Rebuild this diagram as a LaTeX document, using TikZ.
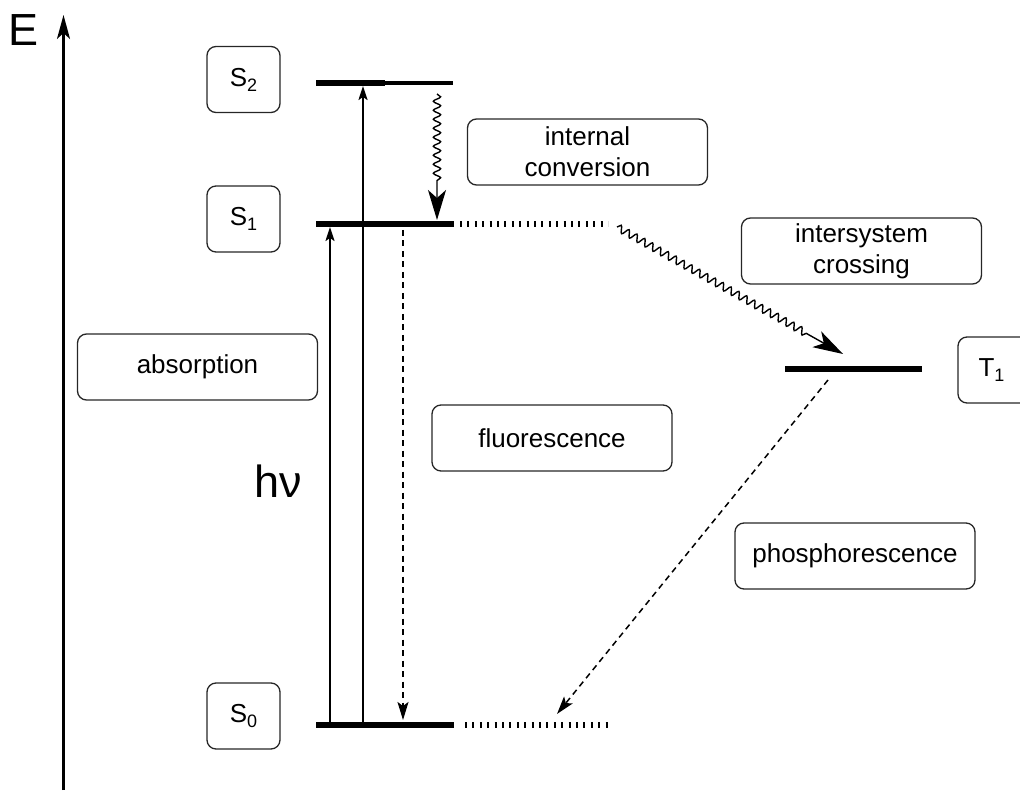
\documentclass[tikz,border=0pt]{standalone}
\usepackage{fontspec}
\setmainfont{Liberation Sans}
\usetikzlibrary{arrows.meta,decorations.pathmorphing}
\newcommand{\lvl}[2]{#1\raisebox{-5pt}{\fontsize{18}{18}\selectfont #2}}
\begin{document}
\begin{tikzpicture}[x=1pt,y=-1pt,
  box/.style={draw=black!85, line width=1.3pt, rounded corners=9pt, minimum width=240pt, minimum height=66pt, align=center, font=\fontsize{26}{31}\selectfont, inner sep=0pt},
  lbox/.style={draw=black!85, line width=1.3pt, rounded corners=9pt, minimum width=73pt, minimum height=66pt, font=\fontsize{26}{28}\selectfont, inner sep=0pt},
  level/.style={line width=6pt},
  ext/.style={line width=6pt, dash pattern=on 2pt off 5.4pt},
  up/.style={line width=2pt, -{Stealth[length=14pt,width=9pt,inset=3pt]}},
  dsh/.style={line width=1.5pt, dash pattern=on 6pt off 4.5pt, -{Stealth[length=18pt,width=11pt,inset=4pt]}},
  wav/.style={line width=1.4pt, decorate, decoration={snake, amplitude=3.6pt, segment length=9pt, post length=38pt}, -{Stealth[length=30pt,width=18pt,inset=8pt]}}
]
\useasboundingbox (0,0) rectangle (1020,791);

% energy axis
\coordinate (Ebot) at (63.5,790);
\coordinate (Etop) at (63.5,15);
\draw[line width=2.2pt, -{Stealth[length=24pt,width=13pt,inset=6pt]}] (Ebot) -- (Etop);
\node[font=\fontsize{45}{45}\selectfont] (E) at (23.5,30) {E};

% state label boxes
\node[lbox] (S2) at (243.5,79.5) {\raisebox{-2pt}{\lvl{S}{2}}};
\node[lbox] (S1) at (243.5,219) {\raisebox{-4pt}{\lvl{S}{1}}};
\node[lbox] (S0) at (243.5,716) {\raisebox{-2pt}{\lvl{S}{0}}};
\node[lbox] (T1) at (994.5,370) {\hspace*{-6pt}\lvl{T}{1}};

% process boxes
\node[box] (ic) at (587.5,152) {internal\\conversion};
\node[box] (ab) at (197.5,367) {absorption};
\node[box] (fl) at (552,438) {fluorescence};
\node[box] (isc) at (861.5,251) {intersystem\\crossing};
\node[box] (ph) at (855,556) {phosphorescence};
\node[font=\fontsize{45}{45}\selectfont] (hv) at (278,481) {hν};

% levels
\coordinate (S2l) at (316,83);
\coordinate (S2m) at (385,83);
\coordinate (S2r) at (453,83);
\coordinate (S1l) at (316,224);
\coordinate (S1r) at (454,224);
\coordinate (S1dl) at (460,224);
\coordinate (S1dr) at (608,224);
\coordinate (S0l) at (316,725);
\coordinate (S0r) at (454,725);
\coordinate (S0dl) at (465,725);
\coordinate (S0dr) at (608,725);
\coordinate (T1l) at (785,369);
\coordinate (T1r) at (922,369);
\draw[line width=6.3pt] (S2l) -- (S2m);
\draw[line width=4.5pt] (S2m) -- (S2r);
\draw[level] (S1l) -- (S1r);
\draw[ext] (S1dl) -- (S1dr);
\draw[level] (S0l) -- (S0r);
\draw[ext] (S0dl) -- (S0dr);
\draw[level] (T1l) -- (T1r);

% absorption arrows
\coordinate (a1s) at (330,722);
\coordinate (a1e) at (330,227);
\coordinate (a2s) at (363,722);
\coordinate (a2e) at (363,86);
\draw[up] (a1s) -- (a1e);
\draw[up] (a2s) -- (a2e);

% internal conversion
\coordinate (ics) at (437,94);
\coordinate (ice) at (437,220);
\draw[wav] (ics) -- (ice);

% fluorescence
\coordinate (fls) at (403,230);
\coordinate (fle) at (403,720);
\draw[dsh] (fls) -- (fle);

% intersystem crossing
\coordinate (iscs) at (617,227);
\coordinate (isce) at (843,354);
\draw[wav] (iscs) -- (isce);

% phosphorescence
\coordinate (phs) at (828,380);
\coordinate (phe) at (557,714);
\draw[dsh] (phs) -- (phe);
\end{tikzpicture}
\end{document}
